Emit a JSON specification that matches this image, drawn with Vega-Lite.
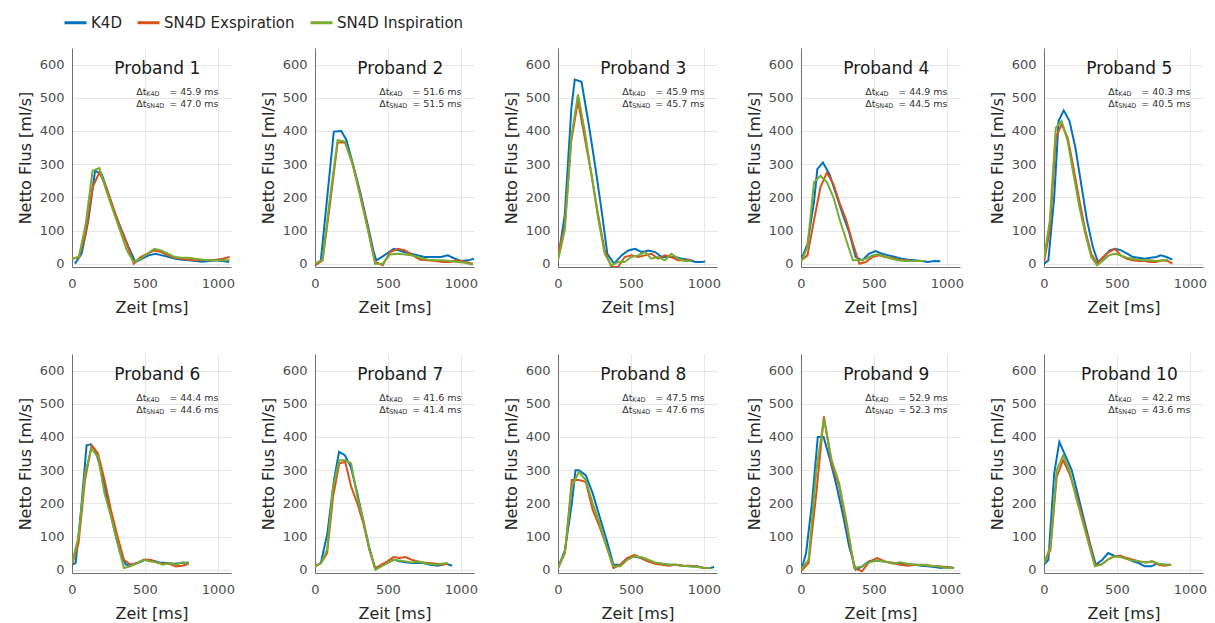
{
  "$schema": "https://vega.github.io/schema/vega-lite/v6.json",
  "padding": {"left": 17, "top": 10, "right": 5, "bottom": 5},
  "bounds": "flush",
  "spacing": {"column": 84, "row": 87},
  "columns": 5,
  "data": {"name": "all"},
  "datasets": {
    "all": [
      {"p":1,"title":"Proband 1","k":"45.9","n":"47.0"},
      {"p":2,"title":"Proband 2","k":"51.6","n":"51.5"},
      {"p":3,"title":"Proband 3","k":"45.9","n":"45.7"},
      {"p":4,"title":"Proband 4","k":"44.9","n":"44.5"},
      {"p":5,"title":"Proband 5","k":"40.3","n":"40.5"},
      {"p":6,"title":"Proband 6","k":"44.4","n":"44.6"},
      {"p":7,"title":"Proband 7","k":"41.6","n":"41.4"},
      {"p":8,"title":"Proband 8","k":"47.5","n":"47.6"},
      {"p":9,"title":"Proband 9","k":"52.9","n":"52.3"},
      {"p":10,"title":"Proband 10","k":"42.2","n":"43.6"},

      {"p":1,"s":"K4D","t":20,"v":0},{"p":1,"s":"K4D","t":66,"v":30},{"p":1,"s":"K4D","t":112,"v":130},{"p":1,"s":"K4D","t":158,"v":280},{"p":1,"s":"K4D","t":204,"v":270},{"p":1,"s":"K4D","t":250,"v":210},{"p":1,"s":"K4D","t":296,"v":150},{"p":1,"s":"K4D","t":342,"v":100},{"p":1,"s":"K4D","t":388,"v":50},{"p":1,"s":"K4D","t":434,"v":5},{"p":1,"s":"K4D","t":480,"v":15},{"p":1,"s":"K4D","t":526,"v":25},{"p":1,"s":"K4D","t":572,"v":30},{"p":1,"s":"K4D","t":618,"v":25},{"p":1,"s":"K4D","t":664,"v":20},{"p":1,"s":"K4D","t":710,"v":15},{"p":1,"s":"K4D","t":756,"v":12},{"p":1,"s":"K4D","t":802,"v":10},{"p":1,"s":"K4D","t":848,"v":8},{"p":1,"s":"K4D","t":894,"v":6},{"p":1,"s":"K4D","t":940,"v":8},{"p":1,"s":"K4D","t":986,"v":10},{"p":1,"s":"K4D","t":1032,"v":8},{"p":1,"s":"K4D","t":1078,"v":5},
      {"p":2,"s":"K4D","t":0,"v":-5},{"p":2,"s":"K4D","t":40,"v":10},{"p":2,"s":"K4D","t":129,"v":398},{"p":2,"s":"K4D","t":180,"v":400},{"p":2,"s":"K4D","t":215,"v":373},{"p":2,"s":"K4D","t":260,"v":300},{"p":2,"s":"K4D","t":310,"v":215},{"p":2,"s":"K4D","t":360,"v":120},{"p":2,"s":"K4D","t":400,"v":40},{"p":2,"s":"K4D","t":420,"v":10},{"p":2,"s":"K4D","t":475,"v":25},{"p":2,"s":"K4D","t":540,"v":45},{"p":2,"s":"K4D","t":610,"v":35},{"p":2,"s":"K4D","t":680,"v":28},{"p":2,"s":"K4D","t":750,"v":20},{"p":2,"s":"K4D","t":810,"v":20},{"p":2,"s":"K4D","t":865,"v":20},{"p":2,"s":"K4D","t":910,"v":25},{"p":2,"s":"K4D","t":960,"v":15},{"p":2,"s":"K4D","t":1000,"v":8},{"p":2,"s":"K4D","t":1050,"v":10},{"p":2,"s":"K4D","t":1090,"v":15},
      {"p":3,"s":"K4D","t":0,"v":15},{"p":3,"s":"K4D","t":46,"v":145},{"p":3,"s":"K4D","t":92,"v":470},{"p":3,"s":"K4D","t":115,"v":555},{"p":3,"s":"K4D","t":161,"v":548},{"p":3,"s":"K4D","t":207,"v":430},{"p":3,"s":"K4D","t":253,"v":300},{"p":3,"s":"K4D","t":299,"v":160},{"p":3,"s":"K4D","t":338,"v":30},{"p":3,"s":"K4D","t":384,"v":0},{"p":3,"s":"K4D","t":436,"v":25},{"p":3,"s":"K4D","t":482,"v":40},{"p":3,"s":"K4D","t":528,"v":45},{"p":3,"s":"K4D","t":574,"v":35},{"p":3,"s":"K4D","t":620,"v":40},{"p":3,"s":"K4D","t":666,"v":35},{"p":3,"s":"K4D","t":712,"v":20},{"p":3,"s":"K4D","t":758,"v":20},{"p":3,"s":"K4D","t":804,"v":20},{"p":3,"s":"K4D","t":850,"v":15},{"p":3,"s":"K4D","t":896,"v":12},{"p":3,"s":"K4D","t":942,"v":5},{"p":3,"s":"K4D","t":988,"v":5},{"p":3,"s":"K4D","t":1010,"v":7},
      {"p":4,"s":"K4D","t":0,"v":10},{"p":4,"s":"K4D","t":45,"v":60},{"p":4,"s":"K4D","t":90,"v":190},{"p":4,"s":"K4D","t":112,"v":285},{"p":4,"s":"K4D","t":150,"v":305},{"p":4,"s":"K4D","t":195,"v":270},{"p":4,"s":"K4D","t":240,"v":210},{"p":4,"s":"K4D","t":285,"v":150},{"p":4,"s":"K4D","t":330,"v":95},{"p":4,"s":"K4D","t":375,"v":20},{"p":4,"s":"K4D","t":420,"v":10},{"p":4,"s":"K4D","t":465,"v":30},{"p":4,"s":"K4D","t":510,"v":38},{"p":4,"s":"K4D","t":555,"v":30},{"p":4,"s":"K4D","t":600,"v":25},{"p":4,"s":"K4D","t":645,"v":20},{"p":4,"s":"K4D","t":690,"v":15},{"p":4,"s":"K4D","t":735,"v":12},{"p":4,"s":"K4D","t":780,"v":10},{"p":4,"s":"K4D","t":825,"v":8},{"p":4,"s":"K4D","t":870,"v":5},{"p":4,"s":"K4D","t":915,"v":8},{"p":4,"s":"K4D","t":955,"v":7},
      {"p":5,"s":"K4D","t":0,"v":0},{"p":5,"s":"K4D","t":30,"v":10},{"p":5,"s":"K4D","t":70,"v":200},{"p":5,"s":"K4D","t":100,"v":430},{"p":5,"s":"K4D","t":135,"v":462},{"p":5,"s":"K4D","t":175,"v":430},{"p":5,"s":"K4D","t":215,"v":350},{"p":5,"s":"K4D","t":255,"v":240},{"p":5,"s":"K4D","t":295,"v":130},{"p":5,"s":"K4D","t":335,"v":50},{"p":5,"s":"K4D","t":370,"v":5},{"p":5,"s":"K4D","t":410,"v":20},{"p":5,"s":"K4D","t":450,"v":40},{"p":5,"s":"K4D","t":490,"v":45},{"p":5,"s":"K4D","t":530,"v":40},{"p":5,"s":"K4D","t":570,"v":30},{"p":5,"s":"K4D","t":610,"v":20},{"p":5,"s":"K4D","t":650,"v":18},{"p":5,"s":"K4D","t":690,"v":15},{"p":5,"s":"K4D","t":730,"v":18},{"p":5,"s":"K4D","t":770,"v":20},{"p":5,"s":"K4D","t":800,"v":25},{"p":5,"s":"K4D","t":840,"v":20},{"p":5,"s":"K4D","t":880,"v":12},
      {"p":6,"s":"K4D","t":0,"v":15},{"p":6,"s":"K4D","t":25,"v":20},{"p":6,"s":"K4D","t":60,"v":170},{"p":6,"s":"K4D","t":100,"v":375},{"p":6,"s":"K4D","t":130,"v":378},{"p":6,"s":"K4D","t":160,"v":360},{"p":6,"s":"K4D","t":200,"v":300},{"p":6,"s":"K4D","t":245,"v":210},{"p":6,"s":"K4D","t":290,"v":120},{"p":6,"s":"K4D","t":330,"v":50},{"p":6,"s":"K4D","t":370,"v":15},{"p":6,"s":"K4D","t":410,"v":15},{"p":6,"s":"K4D","t":450,"v":20},{"p":6,"s":"K4D","t":500,"v":30},{"p":6,"s":"K4D","t":550,"v":28},{"p":6,"s":"K4D","t":600,"v":22},{"p":6,"s":"K4D","t":650,"v":20},{"p":6,"s":"K4D","t":700,"v":18},{"p":6,"s":"K4D","t":750,"v":20},{"p":6,"s":"K4D","t":800,"v":22},
      {"p":7,"s":"K4D","t":0,"v":10},{"p":7,"s":"K4D","t":40,"v":20},{"p":7,"s":"K4D","t":85,"v":110},{"p":7,"s":"K4D","t":130,"v":270},{"p":7,"s":"K4D","t":165,"v":355},{"p":7,"s":"K4D","t":205,"v":345},{"p":7,"s":"K4D","t":245,"v":310},{"p":7,"s":"K4D","t":290,"v":230},{"p":7,"s":"K4D","t":330,"v":150},{"p":7,"s":"K4D","t":370,"v":70},{"p":7,"s":"K4D","t":410,"v":5},{"p":7,"s":"K4D","t":450,"v":10},{"p":7,"s":"K4D","t":490,"v":20},{"p":7,"s":"K4D","t":540,"v":30},{"p":7,"s":"K4D","t":580,"v":25},{"p":7,"s":"K4D","t":620,"v":22},{"p":7,"s":"K4D","t":660,"v":20},{"p":7,"s":"K4D","t":700,"v":20},{"p":7,"s":"K4D","t":740,"v":20},{"p":7,"s":"K4D","t":790,"v":15},{"p":7,"s":"K4D","t":840,"v":12},{"p":7,"s":"K4D","t":900,"v":18},{"p":7,"s":"K4D","t":940,"v":12},
      {"p":8,"s":"K4D","t":0,"v":5},{"p":8,"s":"K4D","t":48,"v":60},{"p":8,"s":"K4D","t":95,"v":200},{"p":8,"s":"K4D","t":120,"v":300},{"p":8,"s":"K4D","t":143,"v":300},{"p":8,"s":"K4D","t":190,"v":285},{"p":8,"s":"K4D","t":238,"v":230},{"p":8,"s":"K4D","t":285,"v":160},{"p":8,"s":"K4D","t":333,"v":90},{"p":8,"s":"K4D","t":380,"v":15},{"p":8,"s":"K4D","t":428,"v":15},{"p":8,"s":"K4D","t":475,"v":35},{"p":8,"s":"K4D","t":523,"v":40},{"p":8,"s":"K4D","t":570,"v":35},{"p":8,"s":"K4D","t":618,"v":25},{"p":8,"s":"K4D","t":665,"v":20},{"p":8,"s":"K4D","t":713,"v":18},{"p":8,"s":"K4D","t":760,"v":15},{"p":8,"s":"K4D","t":808,"v":15},{"p":8,"s":"K4D","t":855,"v":12},{"p":8,"s":"K4D","t":903,"v":10},{"p":8,"s":"K4D","t":950,"v":10},{"p":8,"s":"K4D","t":998,"v":5},{"p":8,"s":"K4D","t":1045,"v":5},{"p":8,"s":"K4D","t":1070,"v":8},
      {"p":9,"s":"K4D","t":0,"v":-5},{"p":9,"s":"K4D","t":35,"v":50},{"p":9,"s":"K4D","t":75,"v":200},{"p":9,"s":"K4D","t":115,"v":400},{"p":9,"s":"K4D","t":155,"v":400},{"p":9,"s":"K4D","t":200,"v":330},{"p":9,"s":"K4D","t":245,"v":250},{"p":9,"s":"K4D","t":290,"v":160},{"p":9,"s":"K4D","t":330,"v":70},{"p":9,"s":"K4D","t":375,"v":0},{"p":9,"s":"K4D","t":420,"v":10},{"p":9,"s":"K4D","t":465,"v":25},{"p":9,"s":"K4D","t":510,"v":28},{"p":9,"s":"K4D","t":555,"v":25},{"p":9,"s":"K4D","t":600,"v":22},{"p":9,"s":"K4D","t":645,"v":20},{"p":9,"s":"K4D","t":690,"v":18},{"p":9,"s":"K4D","t":735,"v":15},{"p":9,"s":"K4D","t":780,"v":15},{"p":9,"s":"K4D","t":825,"v":12},{"p":9,"s":"K4D","t":870,"v":10},{"p":9,"s":"K4D","t":915,"v":8},{"p":9,"s":"K4D","t":960,"v":5},{"p":9,"s":"K4D","t":1005,"v":8},{"p":9,"s":"K4D","t":1050,"v":5},
      {"p":10,"s":"K4D","t":0,"v":15},{"p":10,"s":"K4D","t":30,"v":30},{"p":10,"s":"K4D","t":70,"v":290},{"p":10,"s":"K4D","t":105,"v":385},{"p":10,"s":"K4D","t":145,"v":345},{"p":10,"s":"K4D","t":190,"v":300},{"p":10,"s":"K4D","t":230,"v":230},{"p":10,"s":"K4D","t":275,"v":150},{"p":10,"s":"K4D","t":315,"v":80},{"p":10,"s":"K4D","t":355,"v":15},{"p":10,"s":"K4D","t":400,"v":30},{"p":10,"s":"K4D","t":440,"v":50},{"p":10,"s":"K4D","t":480,"v":42},{"p":10,"s":"K4D","t":525,"v":40},{"p":10,"s":"K4D","t":565,"v":35},{"p":10,"s":"K4D","t":610,"v":25},{"p":10,"s":"K4D","t":650,"v":20},{"p":10,"s":"K4D","t":690,"v":10},{"p":10,"s":"K4D","t":735,"v":10},{"p":10,"s":"K4D","t":775,"v":18},{"p":10,"s":"K4D","t":820,"v":15},{"p":10,"s":"K4D","t":860,"v":15},

      {"p":1,"s":"SN4D Exspiration","t":0,"v":15},{"p":1,"s":"SN4D Exspiration","t":47,"v":20},{"p":1,"s":"SN4D Exspiration","t":94,"v":90},{"p":1,"s":"SN4D Exspiration","t":141,"v":230},{"p":1,"s":"SN4D Exspiration","t":188,"v":275},{"p":1,"s":"SN4D Exspiration","t":235,"v":230},{"p":1,"s":"SN4D Exspiration","t":282,"v":170},{"p":1,"s":"SN4D Exspiration","t":329,"v":110},{"p":1,"s":"SN4D Exspiration","t":376,"v":60},{"p":1,"s":"SN4D Exspiration","t":423,"v":0},{"p":1,"s":"SN4D Exspiration","t":470,"v":20},{"p":1,"s":"SN4D Exspiration","t":517,"v":30},{"p":1,"s":"SN4D Exspiration","t":564,"v":40},{"p":1,"s":"SN4D Exspiration","t":611,"v":35},{"p":1,"s":"SN4D Exspiration","t":658,"v":25},{"p":1,"s":"SN4D Exspiration","t":705,"v":18},{"p":1,"s":"SN4D Exspiration","t":752,"v":15},{"p":1,"s":"SN4D Exspiration","t":799,"v":12},{"p":1,"s":"SN4D Exspiration","t":846,"v":10},{"p":1,"s":"SN4D Exspiration","t":893,"v":12},{"p":1,"s":"SN4D Exspiration","t":940,"v":10},{"p":1,"s":"SN4D Exspiration","t":987,"v":12},{"p":1,"s":"SN4D Exspiration","t":1034,"v":15},{"p":1,"s":"SN4D Exspiration","t":1081,"v":20},
      {"p":2,"s":"SN4D Exspiration","t":0,"v":-5},{"p":2,"s":"SN4D Exspiration","t":52,"v":10},{"p":2,"s":"SN4D Exspiration","t":103,"v":180},{"p":2,"s":"SN4D Exspiration","t":155,"v":365},{"p":2,"s":"SN4D Exspiration","t":206,"v":365},{"p":2,"s":"SN4D Exspiration","t":258,"v":300},{"p":2,"s":"SN4D Exspiration","t":309,"v":210},{"p":2,"s":"SN4D Exspiration","t":361,"v":110},{"p":2,"s":"SN4D Exspiration","t":412,"v":5},{"p":2,"s":"SN4D Exspiration","t":464,"v":-5},{"p":2,"s":"SN4D Exspiration","t":515,"v":35},{"p":2,"s":"SN4D Exspiration","t":567,"v":45},{"p":2,"s":"SN4D Exspiration","t":618,"v":40},{"p":2,"s":"SN4D Exspiration","t":670,"v":25},{"p":2,"s":"SN4D Exspiration","t":721,"v":12},{"p":2,"s":"SN4D Exspiration","t":773,"v":10},{"p":2,"s":"SN4D Exspiration","t":824,"v":8},{"p":2,"s":"SN4D Exspiration","t":876,"v":5},{"p":2,"s":"SN4D Exspiration","t":927,"v":5},{"p":2,"s":"SN4D Exspiration","t":979,"v":10},{"p":2,"s":"SN4D Exspiration","t":1030,"v":5},{"p":2,"s":"SN4D Exspiration","t":1082,"v":0},
      {"p":3,"s":"SN4D Exspiration","t":0,"v":30},{"p":3,"s":"SN4D Exspiration","t":46,"v":110},{"p":3,"s":"SN4D Exspiration","t":91,"v":370},{"p":3,"s":"SN4D Exspiration","t":137,"v":490},{"p":3,"s":"SN4D Exspiration","t":183,"v":380},{"p":3,"s":"SN4D Exspiration","t":229,"v":270},{"p":3,"s":"SN4D Exspiration","t":274,"v":150},{"p":3,"s":"SN4D Exspiration","t":320,"v":40},{"p":3,"s":"SN4D Exspiration","t":366,"v":-10},{"p":3,"s":"SN4D Exspiration","t":412,"v":-10},{"p":3,"s":"SN4D Exspiration","t":457,"v":20},{"p":3,"s":"SN4D Exspiration","t":503,"v":25},{"p":3,"s":"SN4D Exspiration","t":549,"v":20},{"p":3,"s":"SN4D Exspiration","t":595,"v":25},{"p":3,"s":"SN4D Exspiration","t":640,"v":30},{"p":3,"s":"SN4D Exspiration","t":686,"v":15},{"p":3,"s":"SN4D Exspiration","t":732,"v":25},{"p":3,"s":"SN4D Exspiration","t":777,"v":20},{"p":3,"s":"SN4D Exspiration","t":823,"v":10},{"p":3,"s":"SN4D Exspiration","t":869,"v":10},{"p":3,"s":"SN4D Exspiration","t":914,"v":10},
      {"p":4,"s":"SN4D Exspiration","t":0,"v":10},{"p":4,"s":"SN4D Exspiration","t":44,"v":25},{"p":4,"s":"SN4D Exspiration","t":89,"v":130},{"p":4,"s":"SN4D Exspiration","t":133,"v":230},{"p":4,"s":"SN4D Exspiration","t":178,"v":275},{"p":4,"s":"SN4D Exspiration","t":222,"v":240},{"p":4,"s":"SN4D Exspiration","t":267,"v":180},{"p":4,"s":"SN4D Exspiration","t":311,"v":130},{"p":4,"s":"SN4D Exspiration","t":356,"v":60},{"p":4,"s":"SN4D Exspiration","t":400,"v":0},{"p":4,"s":"SN4D Exspiration","t":445,"v":5},{"p":4,"s":"SN4D Exspiration","t":489,"v":20},{"p":4,"s":"SN4D Exspiration","t":534,"v":25},{"p":4,"s":"SN4D Exspiration","t":578,"v":20},{"p":4,"s":"SN4D Exspiration","t":623,"v":18},{"p":4,"s":"SN4D Exspiration","t":667,"v":12},{"p":4,"s":"SN4D Exspiration","t":712,"v":10},{"p":4,"s":"SN4D Exspiration","t":756,"v":8},{"p":4,"s":"SN4D Exspiration","t":801,"v":8},{"p":4,"s":"SN4D Exspiration","t":845,"v":8},
      {"p":5,"s":"SN4D Exspiration","t":0,"v":5},{"p":5,"s":"SN4D Exspiration","t":40,"v":100},{"p":5,"s":"SN4D Exspiration","t":81,"v":380},{"p":5,"s":"SN4D Exspiration","t":121,"v":420},{"p":5,"s":"SN4D Exspiration","t":162,"v":380},{"p":5,"s":"SN4D Exspiration","t":202,"v":290},{"p":5,"s":"SN4D Exspiration","t":243,"v":190},{"p":5,"s":"SN4D Exspiration","t":283,"v":100},{"p":5,"s":"SN4D Exspiration","t":324,"v":30},{"p":5,"s":"SN4D Exspiration","t":364,"v":0},{"p":5,"s":"SN4D Exspiration","t":405,"v":20},{"p":5,"s":"SN4D Exspiration","t":445,"v":35},{"p":5,"s":"SN4D Exspiration","t":486,"v":45},{"p":5,"s":"SN4D Exspiration","t":526,"v":25},{"p":5,"s":"SN4D Exspiration","t":567,"v":15},{"p":5,"s":"SN4D Exspiration","t":607,"v":10},{"p":5,"s":"SN4D Exspiration","t":648,"v":8},{"p":5,"s":"SN4D Exspiration","t":688,"v":8},{"p":5,"s":"SN4D Exspiration","t":729,"v":5},{"p":5,"s":"SN4D Exspiration","t":769,"v":5},{"p":5,"s":"SN4D Exspiration","t":810,"v":10},{"p":5,"s":"SN4D Exspiration","t":850,"v":8},{"p":5,"s":"SN4D Exspiration","t":880,"v":0},
      {"p":6,"s":"SN4D Exspiration","t":0,"v":15},{"p":6,"s":"SN4D Exspiration","t":45,"v":80},{"p":6,"s":"SN4D Exspiration","t":89,"v":270},{"p":6,"s":"SN4D Exspiration","t":134,"v":375},{"p":6,"s":"SN4D Exspiration","t":178,"v":350},{"p":6,"s":"SN4D Exspiration","t":223,"v":270},{"p":6,"s":"SN4D Exspiration","t":267,"v":180},{"p":6,"s":"SN4D Exspiration","t":312,"v":100},{"p":6,"s":"SN4D Exspiration","t":356,"v":30},{"p":6,"s":"SN4D Exspiration","t":401,"v":15},{"p":6,"s":"SN4D Exspiration","t":445,"v":20},{"p":6,"s":"SN4D Exspiration","t":490,"v":30},{"p":6,"s":"SN4D Exspiration","t":534,"v":30},{"p":6,"s":"SN4D Exspiration","t":579,"v":22},{"p":6,"s":"SN4D Exspiration","t":623,"v":18},{"p":6,"s":"SN4D Exspiration","t":668,"v":18},{"p":6,"s":"SN4D Exspiration","t":712,"v":10},{"p":6,"s":"SN4D Exspiration","t":757,"v":12},{"p":6,"s":"SN4D Exspiration","t":801,"v":18},
      {"p":7,"s":"SN4D Exspiration","t":0,"v":10},{"p":7,"s":"SN4D Exspiration","t":41,"v":20},{"p":7,"s":"SN4D Exspiration","t":83,"v":50},{"p":7,"s":"SN4D Exspiration","t":124,"v":220},{"p":7,"s":"SN4D Exspiration","t":166,"v":320},{"p":7,"s":"SN4D Exspiration","t":207,"v":325},{"p":7,"s":"SN4D Exspiration","t":248,"v":250},{"p":7,"s":"SN4D Exspiration","t":290,"v":200},{"p":7,"s":"SN4D Exspiration","t":331,"v":140},{"p":7,"s":"SN4D Exspiration","t":373,"v":60},{"p":7,"s":"SN4D Exspiration","t":414,"v":5},{"p":7,"s":"SN4D Exspiration","t":455,"v":15},{"p":7,"s":"SN4D Exspiration","t":497,"v":25},{"p":7,"s":"SN4D Exspiration","t":538,"v":38},{"p":7,"s":"SN4D Exspiration","t":579,"v":35},{"p":7,"s":"SN4D Exspiration","t":621,"v":38},{"p":7,"s":"SN4D Exspiration","t":662,"v":30},{"p":7,"s":"SN4D Exspiration","t":704,"v":25},{"p":7,"s":"SN4D Exspiration","t":745,"v":22},{"p":7,"s":"SN4D Exspiration","t":786,"v":20},{"p":7,"s":"SN4D Exspiration","t":828,"v":18},{"p":7,"s":"SN4D Exspiration","t":869,"v":15},{"p":7,"s":"SN4D Exspiration","t":911,"v":18},
      {"p":8,"s":"SN4D Exspiration","t":0,"v":5},{"p":8,"s":"SN4D Exspiration","t":48,"v":50},{"p":8,"s":"SN4D Exspiration","t":95,"v":270},{"p":8,"s":"SN4D Exspiration","t":143,"v":270},{"p":8,"s":"SN4D Exspiration","t":190,"v":265},{"p":8,"s":"SN4D Exspiration","t":238,"v":180},{"p":8,"s":"SN4D Exspiration","t":285,"v":130},{"p":8,"s":"SN4D Exspiration","t":333,"v":70},{"p":8,"s":"SN4D Exspiration","t":380,"v":5},{"p":8,"s":"SN4D Exspiration","t":428,"v":15},{"p":8,"s":"SN4D Exspiration","t":475,"v":35},{"p":8,"s":"SN4D Exspiration","t":523,"v":45},{"p":8,"s":"SN4D Exspiration","t":570,"v":35},{"p":8,"s":"SN4D Exspiration","t":618,"v":25},{"p":8,"s":"SN4D Exspiration","t":665,"v":18},{"p":8,"s":"SN4D Exspiration","t":713,"v":15},{"p":8,"s":"SN4D Exspiration","t":760,"v":12},{"p":8,"s":"SN4D Exspiration","t":808,"v":15},{"p":8,"s":"SN4D Exspiration","t":855,"v":12},{"p":8,"s":"SN4D Exspiration","t":903,"v":12},{"p":8,"s":"SN4D Exspiration","t":950,"v":10},{"p":8,"s":"SN4D Exspiration","t":998,"v":5},{"p":8,"s":"SN4D Exspiration","t":1045,"v":5},
      {"p":9,"s":"SN4D Exspiration","t":0,"v":-5},{"p":9,"s":"SN4D Exspiration","t":52,"v":20},{"p":9,"s":"SN4D Exspiration","t":105,"v":230},{"p":9,"s":"SN4D Exspiration","t":157,"v":462},{"p":9,"s":"SN4D Exspiration","t":210,"v":320},{"p":9,"s":"SN4D Exspiration","t":262,"v":250},{"p":9,"s":"SN4D Exspiration","t":314,"v":130},{"p":9,"s":"SN4D Exspiration","t":366,"v":5},{"p":9,"s":"SN4D Exspiration","t":418,"v":-5},{"p":9,"s":"SN4D Exspiration","t":471,"v":25},{"p":9,"s":"SN4D Exspiration","t":523,"v":35},{"p":9,"s":"SN4D Exspiration","t":575,"v":25},{"p":9,"s":"SN4D Exspiration","t":628,"v":20},{"p":9,"s":"SN4D Exspiration","t":680,"v":15},{"p":9,"s":"SN4D Exspiration","t":732,"v":12},{"p":9,"s":"SN4D Exspiration","t":784,"v":15},{"p":9,"s":"SN4D Exspiration","t":837,"v":15},{"p":9,"s":"SN4D Exspiration","t":889,"v":12},{"p":9,"s":"SN4D Exspiration","t":941,"v":10},{"p":9,"s":"SN4D Exspiration","t":994,"v":8},{"p":9,"s":"SN4D Exspiration","t":1046,"v":5},
      {"p":10,"s":"SN4D Exspiration","t":0,"v":20},{"p":10,"s":"SN4D Exspiration","t":44,"v":60},{"p":10,"s":"SN4D Exspiration","t":87,"v":280},{"p":10,"s":"SN4D Exspiration","t":131,"v":330},{"p":10,"s":"SN4D Exspiration","t":174,"v":290},{"p":10,"s":"SN4D Exspiration","t":218,"v":230},{"p":10,"s":"SN4D Exspiration","t":262,"v":160},{"p":10,"s":"SN4D Exspiration","t":305,"v":90},{"p":10,"s":"SN4D Exspiration","t":349,"v":15},{"p":10,"s":"SN4D Exspiration","t":392,"v":15},{"p":10,"s":"SN4D Exspiration","t":436,"v":30},{"p":10,"s":"SN4D Exspiration","t":480,"v":40},{"p":10,"s":"SN4D Exspiration","t":523,"v":42},{"p":10,"s":"SN4D Exspiration","t":567,"v":35},{"p":10,"s":"SN4D Exspiration","t":610,"v":30},{"p":10,"s":"SN4D Exspiration","t":654,"v":25},{"p":10,"s":"SN4D Exspiration","t":698,"v":22},{"p":10,"s":"SN4D Exspiration","t":741,"v":25},{"p":10,"s":"SN4D Exspiration","t":785,"v":15},{"p":10,"s":"SN4D Exspiration","t":828,"v":12},{"p":10,"s":"SN4D Exspiration","t":872,"v":15},

      {"p":1,"s":"SN4D Inspiration","t":0,"v":15},{"p":1,"s":"SN4D Inspiration","t":47,"v":20},{"p":1,"s":"SN4D Inspiration","t":94,"v":120},{"p":1,"s":"SN4D Inspiration","t":141,"v":280},{"p":1,"s":"SN4D Inspiration","t":188,"v":288},{"p":1,"s":"SN4D Inspiration","t":235,"v":220},{"p":1,"s":"SN4D Inspiration","t":282,"v":160},{"p":1,"s":"SN4D Inspiration","t":329,"v":100},{"p":1,"s":"SN4D Inspiration","t":376,"v":40},{"p":1,"s":"SN4D Inspiration","t":423,"v":5},{"p":1,"s":"SN4D Inspiration","t":470,"v":15},{"p":1,"s":"SN4D Inspiration","t":517,"v":30},{"p":1,"s":"SN4D Inspiration","t":564,"v":45},{"p":1,"s":"SN4D Inspiration","t":611,"v":40},{"p":1,"s":"SN4D Inspiration","t":658,"v":30},{"p":1,"s":"SN4D Inspiration","t":705,"v":20},{"p":1,"s":"SN4D Inspiration","t":752,"v":18},{"p":1,"s":"SN4D Inspiration","t":799,"v":18},{"p":1,"s":"SN4D Inspiration","t":846,"v":15},{"p":1,"s":"SN4D Inspiration","t":893,"v":12},{"p":1,"s":"SN4D Inspiration","t":940,"v":10},{"p":1,"s":"SN4D Inspiration","t":987,"v":10},{"p":1,"s":"SN4D Inspiration","t":1034,"v":10},{"p":1,"s":"SN4D Inspiration","t":1081,"v":10},
      {"p":2,"s":"SN4D Inspiration","t":0,"v":0},{"p":2,"s":"SN4D Inspiration","t":52,"v":12},{"p":2,"s":"SN4D Inspiration","t":103,"v":200},{"p":2,"s":"SN4D Inspiration","t":155,"v":372},{"p":2,"s":"SN4D Inspiration","t":206,"v":368},{"p":2,"s":"SN4D Inspiration","t":258,"v":300},{"p":2,"s":"SN4D Inspiration","t":309,"v":205},{"p":2,"s":"SN4D Inspiration","t":361,"v":105},{"p":2,"s":"SN4D Inspiration","t":412,"v":0},{"p":2,"s":"SN4D Inspiration","t":464,"v":0},{"p":2,"s":"SN4D Inspiration","t":515,"v":28},{"p":2,"s":"SN4D Inspiration","t":567,"v":30},{"p":2,"s":"SN4D Inspiration","t":618,"v":28},{"p":2,"s":"SN4D Inspiration","t":670,"v":25},{"p":2,"s":"SN4D Inspiration","t":721,"v":18},{"p":2,"s":"SN4D Inspiration","t":773,"v":12},{"p":2,"s":"SN4D Inspiration","t":824,"v":10},{"p":2,"s":"SN4D Inspiration","t":876,"v":10},{"p":2,"s":"SN4D Inspiration","t":927,"v":8},{"p":2,"s":"SN4D Inspiration","t":979,"v":5},{"p":2,"s":"SN4D Inspiration","t":1030,"v":3},{"p":2,"s":"SN4D Inspiration","t":1082,"v":-3},
      {"p":3,"s":"SN4D Inspiration","t":0,"v":10},{"p":3,"s":"SN4D Inspiration","t":46,"v":100},{"p":3,"s":"SN4D Inspiration","t":91,"v":380},{"p":3,"s":"SN4D Inspiration","t":137,"v":510},{"p":3,"s":"SN4D Inspiration","t":183,"v":400},{"p":3,"s":"SN4D Inspiration","t":229,"v":270},{"p":3,"s":"SN4D Inspiration","t":274,"v":140},{"p":3,"s":"SN4D Inspiration","t":320,"v":30},{"p":3,"s":"SN4D Inspiration","t":366,"v":-5},{"p":3,"s":"SN4D Inspiration","t":412,"v":5},{"p":3,"s":"SN4D Inspiration","t":457,"v":5},{"p":3,"s":"SN4D Inspiration","t":503,"v":20},{"p":3,"s":"SN4D Inspiration","t":549,"v":25},{"p":3,"s":"SN4D Inspiration","t":595,"v":35},{"p":3,"s":"SN4D Inspiration","t":640,"v":15},{"p":3,"s":"SN4D Inspiration","t":686,"v":20},{"p":3,"s":"SN4D Inspiration","t":732,"v":10},{"p":3,"s":"SN4D Inspiration","t":777,"v":30},{"p":3,"s":"SN4D Inspiration","t":823,"v":15},{"p":3,"s":"SN4D Inspiration","t":869,"v":8},{"p":3,"s":"SN4D Inspiration","t":914,"v":8},
      {"p":4,"s":"SN4D Inspiration","t":0,"v":5},{"p":4,"s":"SN4D Inspiration","t":44,"v":50},{"p":4,"s":"SN4D Inspiration","t":89,"v":245},{"p":4,"s":"SN4D Inspiration","t":133,"v":265},{"p":4,"s":"SN4D Inspiration","t":178,"v":245},{"p":4,"s":"SN4D Inspiration","t":222,"v":200},{"p":4,"s":"SN4D Inspiration","t":267,"v":130},{"p":4,"s":"SN4D Inspiration","t":311,"v":70},{"p":4,"s":"SN4D Inspiration","t":356,"v":10},{"p":4,"s":"SN4D Inspiration","t":400,"v":10},{"p":4,"s":"SN4D Inspiration","t":445,"v":15},{"p":4,"s":"SN4D Inspiration","t":489,"v":25},{"p":4,"s":"SN4D Inspiration","t":534,"v":28},{"p":4,"s":"SN4D Inspiration","t":578,"v":20},{"p":4,"s":"SN4D Inspiration","t":623,"v":15},{"p":4,"s":"SN4D Inspiration","t":667,"v":10},{"p":4,"s":"SN4D Inspiration","t":712,"v":8},{"p":4,"s":"SN4D Inspiration","t":756,"v":8},{"p":4,"s":"SN4D Inspiration","t":801,"v":8},{"p":4,"s":"SN4D Inspiration","t":845,"v":8},
      {"p":5,"s":"SN4D Inspiration","t":0,"v":15},{"p":5,"s":"SN4D Inspiration","t":40,"v":130},{"p":5,"s":"SN4D Inspiration","t":81,"v":410},{"p":5,"s":"SN4D Inspiration","t":121,"v":430},{"p":5,"s":"SN4D Inspiration","t":162,"v":370},{"p":5,"s":"SN4D Inspiration","t":202,"v":270},{"p":5,"s":"SN4D Inspiration","t":243,"v":170},{"p":5,"s":"SN4D Inspiration","t":283,"v":90},{"p":5,"s":"SN4D Inspiration","t":324,"v":20},{"p":5,"s":"SN4D Inspiration","t":364,"v":-5},{"p":5,"s":"SN4D Inspiration","t":405,"v":10},{"p":5,"s":"SN4D Inspiration","t":445,"v":25},{"p":5,"s":"SN4D Inspiration","t":486,"v":30},{"p":5,"s":"SN4D Inspiration","t":526,"v":25},{"p":5,"s":"SN4D Inspiration","t":567,"v":18},{"p":5,"s":"SN4D Inspiration","t":607,"v":15},{"p":5,"s":"SN4D Inspiration","t":648,"v":12},{"p":5,"s":"SN4D Inspiration","t":688,"v":10},{"p":5,"s":"SN4D Inspiration","t":729,"v":10},{"p":5,"s":"SN4D Inspiration","t":769,"v":8},{"p":5,"s":"SN4D Inspiration","t":810,"v":10},{"p":5,"s":"SN4D Inspiration","t":850,"v":10},
      {"p":6,"s":"SN4D Inspiration","t":0,"v":20},{"p":6,"s":"SN4D Inspiration","t":45,"v":100},{"p":6,"s":"SN4D Inspiration","t":89,"v":290},{"p":6,"s":"SN4D Inspiration","t":134,"v":365},{"p":6,"s":"SN4D Inspiration","t":178,"v":340},{"p":6,"s":"SN4D Inspiration","t":223,"v":230},{"p":6,"s":"SN4D Inspiration","t":267,"v":160},{"p":6,"s":"SN4D Inspiration","t":312,"v":80},{"p":6,"s":"SN4D Inspiration","t":356,"v":5},{"p":6,"s":"SN4D Inspiration","t":401,"v":10},{"p":6,"s":"SN4D Inspiration","t":445,"v":20},{"p":6,"s":"SN4D Inspiration","t":490,"v":30},{"p":6,"s":"SN4D Inspiration","t":534,"v":25},{"p":6,"s":"SN4D Inspiration","t":579,"v":22},{"p":6,"s":"SN4D Inspiration","t":623,"v":15},{"p":6,"s":"SN4D Inspiration","t":668,"v":20},{"p":6,"s":"SN4D Inspiration","t":712,"v":15},{"p":6,"s":"SN4D Inspiration","t":757,"v":22},{"p":6,"s":"SN4D Inspiration","t":801,"v":18},
      {"p":7,"s":"SN4D Inspiration","t":0,"v":10},{"p":7,"s":"SN4D Inspiration","t":41,"v":20},{"p":7,"s":"SN4D Inspiration","t":83,"v":60},{"p":7,"s":"SN4D Inspiration","t":124,"v":250},{"p":7,"s":"SN4D Inspiration","t":166,"v":330},{"p":7,"s":"SN4D Inspiration","t":207,"v":330},{"p":7,"s":"SN4D Inspiration","t":248,"v":320},{"p":7,"s":"SN4D Inspiration","t":290,"v":220},{"p":7,"s":"SN4D Inspiration","t":331,"v":150},{"p":7,"s":"SN4D Inspiration","t":373,"v":60},{"p":7,"s":"SN4D Inspiration","t":414,"v":0},{"p":7,"s":"SN4D Inspiration","t":455,"v":10},{"p":7,"s":"SN4D Inspiration","t":497,"v":20},{"p":7,"s":"SN4D Inspiration","t":538,"v":30},{"p":7,"s":"SN4D Inspiration","t":579,"v":28},{"p":7,"s":"SN4D Inspiration","t":621,"v":25},{"p":7,"s":"SN4D Inspiration","t":662,"v":22},{"p":7,"s":"SN4D Inspiration","t":704,"v":25},{"p":7,"s":"SN4D Inspiration","t":745,"v":20},{"p":7,"s":"SN4D Inspiration","t":786,"v":18},{"p":7,"s":"SN4D Inspiration","t":828,"v":15},{"p":7,"s":"SN4D Inspiration","t":869,"v":18},{"p":7,"s":"SN4D Inspiration","t":911,"v":20},
      {"p":8,"s":"SN4D Inspiration","t":0,"v":5},{"p":8,"s":"SN4D Inspiration","t":48,"v":55},{"p":8,"s":"SN4D Inspiration","t":95,"v":250},{"p":8,"s":"SN4D Inspiration","t":143,"v":295},{"p":8,"s":"SN4D Inspiration","t":190,"v":270},{"p":8,"s":"SN4D Inspiration","t":238,"v":200},{"p":8,"s":"SN4D Inspiration","t":285,"v":140},{"p":8,"s":"SN4D Inspiration","t":333,"v":70},{"p":8,"s":"SN4D Inspiration","t":380,"v":10},{"p":8,"s":"SN4D Inspiration","t":428,"v":10},{"p":8,"s":"SN4D Inspiration","t":475,"v":30},{"p":8,"s":"SN4D Inspiration","t":523,"v":40},{"p":8,"s":"SN4D Inspiration","t":570,"v":38},{"p":8,"s":"SN4D Inspiration","t":618,"v":30},{"p":8,"s":"SN4D Inspiration","t":665,"v":22},{"p":8,"s":"SN4D Inspiration","t":713,"v":18},{"p":8,"s":"SN4D Inspiration","t":760,"v":15},{"p":8,"s":"SN4D Inspiration","t":808,"v":15},{"p":8,"s":"SN4D Inspiration","t":855,"v":12},{"p":8,"s":"SN4D Inspiration","t":903,"v":10},{"p":8,"s":"SN4D Inspiration","t":950,"v":8},{"p":8,"s":"SN4D Inspiration","t":998,"v":6},{"p":8,"s":"SN4D Inspiration","t":1045,"v":5},
      {"p":9,"s":"SN4D Inspiration","t":0,"v":0},{"p":9,"s":"SN4D Inspiration","t":52,"v":30},{"p":9,"s":"SN4D Inspiration","t":105,"v":300},{"p":9,"s":"SN4D Inspiration","t":157,"v":455},{"p":9,"s":"SN4D Inspiration","t":210,"v":330},{"p":9,"s":"SN4D Inspiration","t":262,"v":260},{"p":9,"s":"SN4D Inspiration","t":314,"v":140},{"p":9,"s":"SN4D Inspiration","t":366,"v":5},{"p":9,"s":"SN4D Inspiration","t":418,"v":10},{"p":9,"s":"SN4D Inspiration","t":471,"v":22},{"p":9,"s":"SN4D Inspiration","t":523,"v":28},{"p":9,"s":"SN4D Inspiration","t":575,"v":25},{"p":9,"s":"SN4D Inspiration","t":628,"v":18},{"p":9,"s":"SN4D Inspiration","t":680,"v":22},{"p":9,"s":"SN4D Inspiration","t":732,"v":18},{"p":9,"s":"SN4D Inspiration","t":784,"v":15},{"p":9,"s":"SN4D Inspiration","t":837,"v":14},{"p":9,"s":"SN4D Inspiration","t":889,"v":12},{"p":9,"s":"SN4D Inspiration","t":941,"v":10},{"p":9,"s":"SN4D Inspiration","t":994,"v":5},{"p":9,"s":"SN4D Inspiration","t":1046,"v":5},
      {"p":10,"s":"SN4D Inspiration","t":0,"v":20},{"p":10,"s":"SN4D Inspiration","t":44,"v":70},{"p":10,"s":"SN4D Inspiration","t":87,"v":300},{"p":10,"s":"SN4D Inspiration","t":131,"v":345},{"p":10,"s":"SN4D Inspiration","t":174,"v":300},{"p":10,"s":"SN4D Inspiration","t":218,"v":220},{"p":10,"s":"SN4D Inspiration","t":262,"v":150},{"p":10,"s":"SN4D Inspiration","t":305,"v":80},{"p":10,"s":"SN4D Inspiration","t":349,"v":10},{"p":10,"s":"SN4D Inspiration","t":392,"v":15},{"p":10,"s":"SN4D Inspiration","t":436,"v":30},{"p":10,"s":"SN4D Inspiration","t":480,"v":40},{"p":10,"s":"SN4D Inspiration","t":523,"v":38},{"p":10,"s":"SN4D Inspiration","t":567,"v":32},{"p":10,"s":"SN4D Inspiration","t":610,"v":28},{"p":10,"s":"SN4D Inspiration","t":654,"v":25},{"p":10,"s":"SN4D Inspiration","t":698,"v":22},{"p":10,"s":"SN4D Inspiration","t":741,"v":25},{"p":10,"s":"SN4D Inspiration","t":785,"v":18},{"p":10,"s":"SN4D Inspiration","t":828,"v":15},{"p":10,"s":"SN4D Inspiration","t":872,"v":15}
    ]
  },
  "facet": {"field": "p", "type": "ordinal", "title": null, "header": {"title": null, "labels": false, "labelExpr": "''", "labelFontSize": 0, "labelPadding": 0}},
  "spec": {
    "width": 159,
    "height": 219,
    "layer": [
      {
        "transform": [{"filter": "isValid(datum.s)"}],
        "mark": {"type": "line", "strokeWidth": 2, "clip": true},
        "encoding": {
          "x": {"field": "t", "type": "quantitative", "scale": {"domain": [0, 1090], "nice": false},
                "axis": {"values": [0, 500, 1000], "tickCount": 3, "format": "d", "title": "Zeit [ms]", "labelPadding": 10, "titlePadding": 9, "labelOverlap": false, "labelFlush": false}},
          "y": {"field": "v", "type": "quantitative", "scale": {"domain": [-10, 650], "nice": false},
                "axis": {"values": [0, 100, 200, 300, 400, 500, 600], "tickCount": 7, "format": "d", "title": "Netto Flus [ml/s]", "labelPadding": 8, "titlePadding": 6, "labelOverlap": false, "labelFlush": false}},
          "color": {"field": "s", "type": "nominal",
                    "scale": {"domain": ["K4D", "SN4D Exspiration", "SN4D Inspiration"], "range": ["#0072BD", "#D95319", "#77AC30"]},
                    "legend": {"title": null, "orient": "none", "direction": "horizontal", "legendX": -9, "legendY": -38,
                               "symbolType": "stroke", "symbolSize": 484, "symbolStrokeWidth": 3, "labelFontSize": 15,
                               "labelFont": "DejaVu Sans", "labelColor": "#262626", "columnPadding": 9, "labelOffset": 3}}
        }
      },
      {
        "transform": [{"filter": "isValid(datum.title)"}],
        "mark": {"type": "text", "fontSize": 17, "font": "DejaVu Sans", "color": "#1a1a1a", "align": "center", "baseline": "middle"},
        "encoding": {"x": {"datum": 585}, "y": {"datum": 586}, "text": {"field": "title"}}
      },
      {
        "transform": [{"filter": "isValid(datum.title)"}],
        "mark": {"type": "text", "fontSize": 9.5, "font": "DejaVu Sans", "color": "#333333", "align": "left", "baseline": "middle"},
        "encoding": {"x": {"datum": 440}, "y": {"datum": 518}, "text": {"value": "Δt"}}
      },
      {
        "transform": [{"filter": "isValid(datum.title)"}],
        "mark": {"type": "text", "fontSize": 6.5, "font": "DejaVu Sans", "color": "#333333", "align": "left", "baseline": "middle", "dx": 10, "dy": 2},
        "encoding": {"x": {"datum": 440}, "y": {"datum": 518}, "text": {"value": "K4D"}}
      },
      {
        "transform": [{"filter": "isValid(datum.title)"}, {"calculate": "'= ' + datum.k + ' ms'", "as": "lk"}],
        "mark": {"type": "text", "fontSize": 9.5, "font": "DejaVu Sans", "color": "#333333", "align": "left", "baseline": "middle", "dx": 33},
        "encoding": {"x": {"datum": 440}, "y": {"datum": 518}, "text": {"field": "lk"}}
      },
      {
        "transform": [{"filter": "isValid(datum.title)"}],
        "mark": {"type": "text", "fontSize": 9.5, "font": "DejaVu Sans", "color": "#333333", "align": "left", "baseline": "middle"},
        "encoding": {"x": {"datum": 440}, "y": {"datum": 482}, "text": {"value": "Δt"}}
      },
      {
        "transform": [{"filter": "isValid(datum.title)"}],
        "mark": {"type": "text", "fontSize": 6.5, "font": "DejaVu Sans", "color": "#333333", "align": "left", "baseline": "middle", "dx": 10, "dy": 2},
        "encoding": {"x": {"datum": 440}, "y": {"datum": 482}, "text": {"value": "SN4D"}}
      },
      {
        "transform": [{"filter": "isValid(datum.title)"}, {"calculate": "'= ' + datum.n + ' ms'", "as": "ln"}],
        "mark": {"type": "text", "fontSize": 9.5, "font": "DejaVu Sans", "color": "#333333", "align": "left", "baseline": "middle", "dx": 33},
        "encoding": {"x": {"datum": 440}, "y": {"datum": 482}, "text": {"field": "ln"}}
      }
    ]
  },
  "resolve": {"axis": {"x": "independent", "y": "independent"}},
  "config": {
    "view": {"stroke": null},
    "header": {"labels": false, "title": null},
    "axis": {"grid": true, "gridColor": "#e6e6e6", "domainColor": "#707070", "ticks": false,
             "labelFont": "DejaVu Sans", "labelFontSize": 13, "labelColor": "#4d4d4d",
             "titleFont": "DejaVu Sans", "titleFontSize": 16, "titleFontWeight": "normal", "titleColor": "#262626"}
  }
}
